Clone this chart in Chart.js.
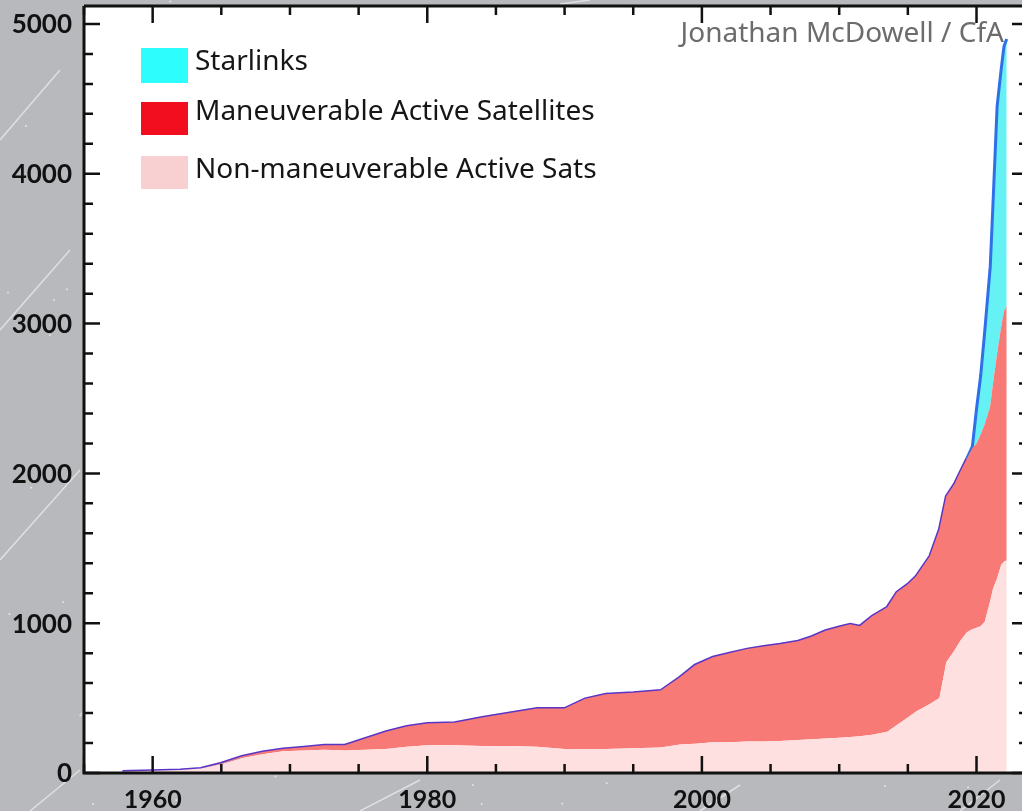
<!DOCTYPE html>
<html lang="en">
<head>
<meta charset="UTF-8">
<title>Active satellites in orbit</title>
<script src="https://cdn.jsdelivr.net/npm/chart.js"></script>
<style>
  body { margin: 0; overflow: hidden; background: #b7b9bc; }
  #wrap { width: 1030px; height: 811px; }
</style>
</head>
<body>
<div id="wrap"><canvas id="satChart" width="1030" height="811"></canvas></div>
<script>
// values (satellites in orbit, stacked)
const years = [1957.8, 1958.5, 1960, 1962, 1963.5, 1965, 1966.5, 1968, 1969.5, 1971, 1972.5, 1974, 1975.5, 1977, 1978.5,
  1980, 1982, 1984, 1986, 1988, 1990, 1991.5, 1993, 1995, 1997, 1998.4, 1999.5, 2000.8, 2002, 2003.3, 2004.5, 2005.7,
  2007, 2008, 2009, 2010, 2010.8, 2011.5, 2012.4, 2013.5, 2014.2, 2015, 2015.6, 2016.6, 2017.3, 2017.8, 2018.4, 2018.8,
  2019.3, 2019.7, 2020.0, 2020.3, 2020.6, 2021.0, 2021.2, 2021.5, 2021.8, 2022.0, 2022.2];
const nonManeuverable = [10, 12, 15, 20, 30, 60, 100, 125, 145, 150, 155, 150, 155, 160, 175,
  185, 185, 180, 180, 175, 160, 160, 160, 165, 170, 190, 195, 205, 205, 210, 210, 213,
  220, 225, 230, 235, 240, 245, 255, 275, 320, 370, 410, 460, 500, 740, 820, 880,
  940, 960, 970, 980, 1010, 1150, 1230, 1300, 1390, 1410, 1420];
const maneuverable = [0, 0, 0, 0, 0, 5, 10, 15, 15, 22, 30, 35, 75, 115, 135,
  145, 150, 190, 220, 255, 270, 335, 365, 370, 380, 450, 525, 568, 595, 617, 635, 647,
  660, 685, 720, 740, 753, 735, 792, 832, 887, 890, 903, 987, 1127, 1107, 1110, 1127,
  1160, 1210, 1230, 1280, 1320, 1300, 1370, 1500, 1590, 1670, 1700];
const starlinks = [0, 0, 0, 0, 0, 0, 0, 0, 0, 0, 0, 0, 0, 0, 0,
  0, 0, 0, 0, 0, 0, 0, 0, 0, 0, 0, 0, 0, 0, 0, 0, 0,
  0, 0, 0, 0, 0, 0, 0, 0, 0, 0, 0, 0, 0, 0, 0, 0,
  0, 10, 230, 390, 620, 930, 1200, 1650, 1720, 1770, 1780];

const xMajorTicks = [1960, 1980, 2000, 2020];
const xMinorTicks = [1955, 1965, 1970, 1975, 1985, 1990, 1995, 2005, 2010, 2015];
const yMajorTicks = [0, 1000, 2000, 3000, 4000, 5000];
const yMinorTicks = [200, 400, 600, 800, 1200, 1400, 1600, 1800, 2200, 2400, 2600, 2800,
  3200, 3400, 3600, 3800, 4200, 4400, 4600, 4800];

const legendItems = [
  { text: 'Starlinks', color: '#2dfdfd' },
  { text: 'Maneuverable Active Satellites', color: '#f20e1e' },
  { text: 'Non-maneuverable Active Sats', color: '#f9d0d1' }
];
const credit = 'Jonathan McDowell / CfA';

function pts(arr) {
  return years.map((x, i) => ({ x: x, y: arr[i] }));
}

const LINE_PURPLE = '#5a36c6';
const LINE_BLUE = '#2f6fe8';

// gray starry backdrop, white plot panel, frame, inward ticks, labels, legend
const backdrop = {
  id: 'backdrop',
  beforeDraw(chart) {
    const ctx = chart.ctx;
    const a = chart.chartArea;
    ctx.save();
    ctx.fillStyle = '#b7b9bc';
    ctx.fillRect(0, 0, chart.width, chart.height);
    ctx.strokeStyle = 'rgba(255,255,255,0.55)';
    ctx.lineWidth = 1.5;
    const streaks = [[0, 330, 70, 250], [0, 560, 80, 470], [0, 140, 60, 70], [360, 811, 420, 780],
      [700, 811, 740, 785], [960, 811, 1000, 780], [30, 811, 80, 770], [560, 4, 590, 0]];
    streaks.forEach(s => { ctx.beginPath(); ctx.moveTo(s[0], s[1]); ctx.lineTo(s[2], s[3]); ctx.stroke(); });
    ctx.fillStyle = 'rgba(255,255,255,0.7)';
    let seed = 7;
    for (let i = 0; i < 140; i++) {
      seed = (seed * 9301 + 49297) % 233280;
      const px = seed / 233280 * chart.width;
      seed = (seed * 9301 + 49297) % 233280;
      const py = seed / 233280 * chart.height;
      ctx.fillRect(px, py, 1.6, 1.6);
    }
    ctx.fillStyle = '#ffffff';
    ctx.fillRect(a.left, a.top, a.right - a.left, a.bottom - a.top);
    ctx.restore();
  },
  afterDraw(chart) {
    const ctx = chart.ctx;
    const a = chart.chartArea;
    const xs = chart.scales.x, ys = chart.scales.y;
    ctx.save();
    ctx.strokeStyle = '#111111';
    ctx.lineWidth = 3;
    ctx.beginPath();
    ctx.moveTo(a.left, a.top); ctx.lineTo(a.right, a.top);
    ctx.moveTo(a.left, a.top); ctx.lineTo(a.left, a.bottom);
    ctx.moveTo(a.left - 1.5, a.bottom); ctx.lineTo(a.right, a.bottom);
    ctx.moveTo(a.right, a.top); ctx.lineTo(a.right, a.bottom);
    ctx.stroke();

    ctx.lineWidth = 2.5;
    ctx.beginPath();
    const xTick = (v, len) => {
      const px = xs.getPixelForValue(v);
      ctx.moveTo(px, a.bottom); ctx.lineTo(px, a.bottom - len);
      ctx.moveTo(px, a.top); ctx.lineTo(px, a.top + len);
    };
    const yTick = (v, len) => {
      const py = ys.getPixelForValue(v);
      ctx.moveTo(a.left, py); ctx.lineTo(a.left + len, py);
      ctx.moveTo(a.right, py); ctx.lineTo(a.right - len, py);
    };
    xMajorTicks.forEach(v => xTick(v, 17));
    xMinorTicks.forEach(v => xTick(v, 9));
    yMajorTicks.forEach(v => yTick(v, 16));
    yMinorTicks.forEach(v => yTick(v, 9));
    ctx.stroke();

    // tick labels
    ctx.fillStyle = '#111111';
    ctx.textBaseline = 'middle';
    ctx.font = 'bold 26px Lato';
    ctx.textAlign = 'right';
    yMajorTicks.forEach(v => ctx.fillText(String(v), a.left - 12, ys.getPixelForValue(v) + 1));
    ctx.font = 'bold 25px Lato';
    ctx.textAlign = 'center';
    xMajorTicks.forEach(v => ctx.fillText(String(v), xs.getPixelForValue(v), a.bottom + 27));

    // legend
    ctx.font = '28px "Noto Sans"';
    ctx.textAlign = 'left';
    const rows = [[48, 35, 62], [102, 33, 112], [156, 33, 170]];
    legendItems.forEach((it, i) => {
      const r = rows[i];
      ctx.fillStyle = it.color;
      ctx.fillRect(141, r[0], 47, r[1]);
      ctx.fillStyle = '#161616';
      ctx.fillText(it.text, 195, r[2]);
    });

    // credit
    ctx.fillStyle = '#6c6c6c';
    ctx.textAlign = 'right';
    ctx.fillText(credit, 1004, 34);
    ctx.restore();
  }
};

new Chart(document.getElementById('satChart'), {
  type: 'line',
  data: {
    datasets: [
      {
        label: 'Non-maneuverable Active Sats',
        data: pts(nonManeuverable),
        fill: 'origin',
        backgroundColor: '#fde0df',
        borderWidth: 0,
        pointRadius: 0
      },
      {
        label: 'Maneuverable Active Satellites',
        data: pts(maneuverable),
        fill: '-1',
        backgroundColor: '#f87a77',
        borderWidth: 0,
        pointRadius: 0
      },
      {
        label: 'Starlinks',
        data: pts(starlinks),
        fill: '-1',
        backgroundColor: '#66f1f4',
        borderColor: LINE_PURPLE,
        borderWidth: 3,
        pointRadius: 0,
        segment: {
          borderColor: c => (c.p0.parsed.x >= 2019.3 ? LINE_BLUE : LINE_PURPLE)
        }
      }
    ]
  },
  options: {
    responsive: false,
    animation: false,
    layout: { padding: { top: 6, right: 2, left: 0, bottom: 0 } },
    plugins: {
      legend: { display: false },
      tooltip: { enabled: false }
    },
    scales: {
      x: {
        type: 'linear',
        min: 1955,
        max: 2023.75,
        grid: { display: false, drawTicks: false },
        border: { display: false },
        ticks: { display: false },
        afterFit: s => { s.height = 38; }
      },
      y: {
        stacked: true,
        min: 0,
        max: 5120,
        grid: { display: false, drawTicks: false },
        border: { display: false },
        ticks: { display: false },
        afterFit: s => { s.width = 84; }
      }
    }
  },
  plugins: [backdrop]
});
</script>
</body>
</html>
